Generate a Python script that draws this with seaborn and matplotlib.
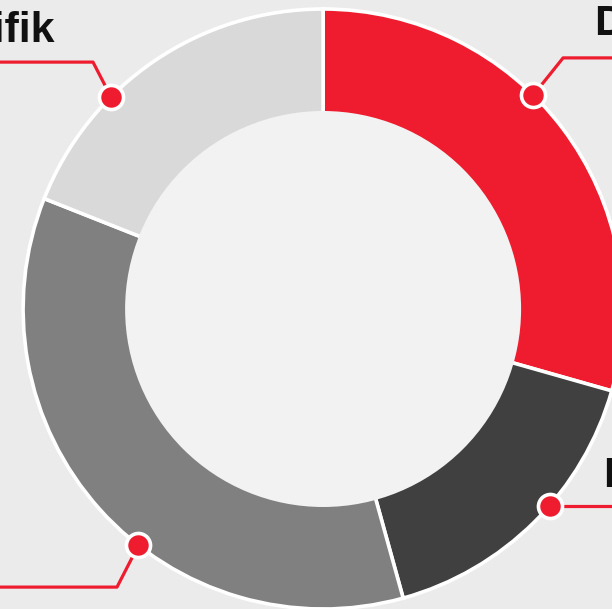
import numpy as np
import matplotlib
matplotlib.use("Agg")
import matplotlib.pyplot as plt
import seaborn as sns

# shares of the ring, clockwise from 12 o'clock
labels = ["Deskriptif", "Detail", "Umum", "Spesifik"]
shares = [29.4, 16.3, 35.3, 19.0]
colors = ["#ee1c2e", "#404040", "#808080", "#d9d9d9"]

# callout layout (angle of the dot on the rim, elbow, text anchor), in pie units
dot_angles = [45.5, -41.0, -128.0, 135.0]
elbows = [(0.80, 0.837), None, (-0.687, -0.927), (-0.767, 0.823)]
text_pos = [(0.905, 0.913), (0.935, -0.593), (-1.15, -0.853), (-0.893, 0.89)]
text_ha = ["left", "left", "right", "right"]

RED = "#ee1c2e"
BG = "#ebebeb"

sns.set_theme(style="white")
plt.rcParams['font.family'] = ['Liberation Sans', 'DejaVu Sans']

fig = plt.figure(figsize=(6.12, 6.09), dpi=100, facecolor=BG)
ax = fig.add_axes([0, 0, 1, 1])
ax.set_facecolor(BG)

ax.pie(shares, colors=colors, startangle=90, counterclock=False,
       radius=1.0, wedgeprops=dict(edgecolor="white", linewidth=2.6))

# centre hole
hole = plt.Circle((0, 0), 0.66, facecolor="#f2f2f2", edgecolor="none", zorder=3)
ax.add_patch(hole)

for ang, elb, (tx, ty), ha, lab in zip(dot_angles, elbows, text_pos, text_ha, labels):
    px = np.cos(np.radians(ang))
    py = np.sin(np.radians(ang))
    side = 1 if tx > 0 else -1
    if elb is None:
        xs = [px, side * 1.4]
        ys = [py, py]
    else:
        xs = [px, elb[0], side * 1.4]
        ys = [py, elb[1], elb[1]]
    ax.plot(xs, ys, color=RED, lw=2.3, zorder=4, solid_capstyle="butt")
    ax.scatter([px], [py], s=300, color=RED, edgecolors="white", linewidths=2.6, zorder=5)
    ax.text(tx, ty, lab, ha=ha, va="baseline", fontsize=31, fontweight="bold",
            color="#111111", zorder=6)

ax.set_xlim(-1.077, 0.963)
ax.set_ylim(-1.0, 1.03)
ax.set_aspect("equal")
ax.axis("off")

fig.savefig("out.png", dpi=100, facecolor=BG)
